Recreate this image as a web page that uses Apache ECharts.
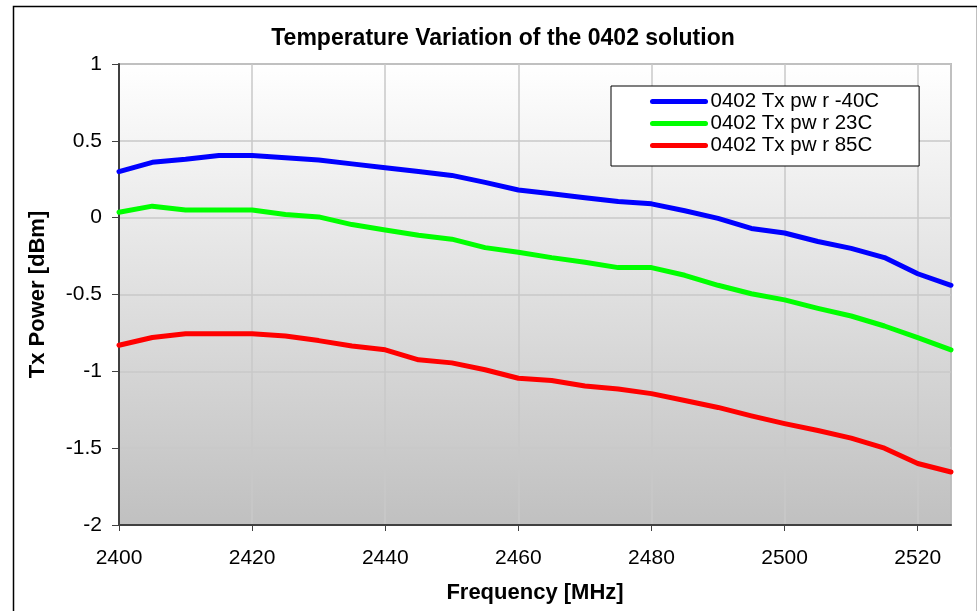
<!DOCTYPE html>
<html>
<head>
<meta charset="utf-8">
<script src="https://cdn.jsdelivr.net/npm/echarts@6/dist/echarts.min.js"></script>
<style>
html,body{margin:0;padding:0;background:#fff;}
#c{width:977px;height:611px;}
</style>
</head>
<body>
<div id="c"></div>
<script>
var freq = [2400,2405,2410,2415,2420,2425,2430,2435,2440,2445,2450,2455,2460,2465,2470,2475,2480,2485,2490,2495,2500,2505,2510,2515,2520,2525];
var pwrM40 = [0.30,0.36,0.38,0.405,0.405,0.39,0.375,0.35,0.325,0.30,0.275,0.23,0.18,0.155,0.13,0.105,0.09,0.045,-0.005,-0.07,-0.10,-0.155,-0.20,-0.26,-0.365,-0.44];
var pwr23 = [0.035,0.075,0.05,0.05,0.05,0.02,0.005,-0.045,-0.08,-0.115,-0.14,-0.195,-0.225,-0.26,-0.29,-0.325,-0.325,-0.375,-0.44,-0.495,-0.535,-0.59,-0.64,-0.705,-0.78,-0.86];
var pwr85 = [-0.83,-0.78,-0.755,-0.755,-0.755,-0.77,-0.80,-0.835,-0.86,-0.925,-0.945,-0.99,-1.045,-1.06,-1.095,-1.115,-1.145,-1.19,-1.235,-1.29,-1.34,-1.385,-1.435,-1.50,-1.60,-1.655];
var seriesNames = ['0402 Tx pw r -40C','0402 Tx pw r 23C','0402 Tx pw r 85C'];
var seriesColors = ['#0000ff','#00ff00','#ff0000'];
var titleText = 'Temperature Variation of the 0402 solution';
var xName = 'Frequency [MHz]';
var yName = 'Tx Power [dBm]';

function pairs(vals){ return freq.map(function(f,i){ return [f, vals[i]]; }); }
var allVals = [pwrM40, pwr23, pwr85];
var FONT = 'Liberation Sans, Arial, sans-serif';

var chart = echarts.init(document.getElementById('c'), null, {renderer:'canvas'});
chart.setOption({
  animation:false,
  backgroundColor:'#ffffff',
  title:{
    text:titleText, left:498, top:22, textAlign:'center',
    textStyle:{fontFamily:FONT, fontWeight:'bold', fontSize:23, color:'#000'}
  },
  graphic:[{
    type:'rect', left:11, top:4, z:-10,
    shape:{width:964, height:630},
    style:{fill:'none', stroke:'#000', lineWidth:1.5}
  }],
  legend:{
    orient:'vertical', left:611, top:86,
    data:seriesNames,
    itemWidth:53, itemHeight:14, itemGap:1,
    padding:[5,40,10,39],
    backgroundColor:'#ffffff', borderColor:'#000', borderWidth:1,
    textStyle:{fontFamily:FONT, fontSize:20.5, color:'#000', lineHeight:20, padding:[0,0,0,0]},
    itemStyle:{opacity:0},
    lineStyle:{width:5, cap:'round'},
    selectedMode:false
  },
  grid:{
    left:119, top:64, right:26, bottom:86,
    show:true,
    borderColor:'#8a8a8a', borderWidth:1.5,
    backgroundColor:new echarts.graphic.LinearGradient(0,0,0,1,[
      {offset:0,color:'#ffffff'},{offset:1,color:'#c0c0c0'}
    ])
  },
  xAxis:{
    type:'value', min:2400, max:2525, interval:20,
    name:xName, nameLocation:'middle', nameGap:57,
    nameTextStyle:{fontFamily:FONT, fontWeight:'bold', fontSize:22, color:'#000'},
    axisLine:{show:true, onZero:false, lineStyle:{color:'#404040', width:2}},
    axisTick:{show:true, inside:false, length:6, lineStyle:{color:'#404040', width:1}},
    axisLabel:{fontFamily:FONT, fontSize:21, color:'#000', margin:23, showMaxLabel:false,
      formatter:function(v){ return String(v); }},
    splitLine:{show:true, lineStyle:{color:'#c8c8c8', width:1.5}}
  },
  yAxis:{
    type:'value', min:-2, max:1, interval:0.5,
    name:yName, nameLocation:'middle', nameGap:70,
    nameTextStyle:{fontFamily:FONT, fontWeight:'bold', fontSize:22, color:'#000'},
    axisLine:{show:true, onZero:false, lineStyle:{color:'#404040', width:2}},
    axisTick:{show:true, inside:false, length:7, lineStyle:{color:'#404040', width:1}},
    axisLabel:{fontFamily:FONT, fontSize:21, color:'#000', margin:17},
    splitLine:{show:true, lineStyle:{color:'#c8c8c8', width:1.5}}
  },
  series: seriesNames.map(function(n,i){
    return {
      name:n, type:'line', data:pairs(allVals[i]),
      symbol:'none', smooth:false,
      lineStyle:{color:seriesColors[i], width:5, cap:'round', join:'round'},
      itemStyle:{color:seriesColors[i]}
    };
  })
});
</script>
</body>
</html>
